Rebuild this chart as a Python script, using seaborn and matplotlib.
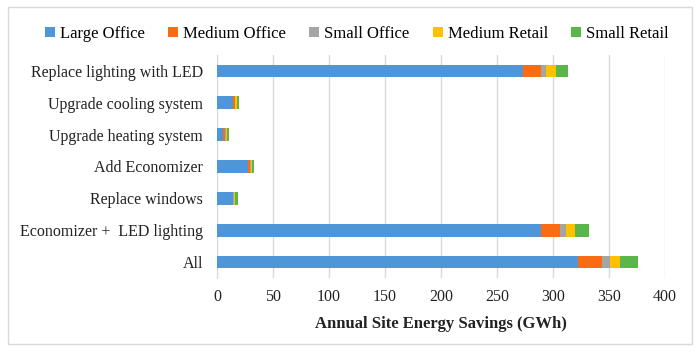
import matplotlib.pyplot as plt
import seaborn as sns
import pandas as pd
from matplotlib.patches import Rectangle

measures = ["Replace lighting with LED", "Upgrade cooling system", "Upgrade heating system",
            "Add Economizer", "Replace windows", "Economizer +  LED lighting", "All"]
large_office = [273, 14, 5.5, 28, 14, 289, 322]
medium_office = [16, 2, 2, 1.5, 0.5, 17, 22]
small_office = [5, 0.5, 0.5, 0.5, 1, 6, 7]
medium_retail = [9, 1, 1, 1, 0.5, 8, 9]
small_retail = [10, 2.5, 1.5, 2, 3, 12, 16]

types = ["Large Office", "Medium Office", "Small Office", "Medium Retail", "Small Retail"]
colors = ["#4E96D8", "#F96C14", "#A5A5A5", "#FFC000", "#5AB54B"]

df = pd.DataFrame({"measure": measures, "Large Office": large_office,
                   "Medium Office": medium_office, "Small Office": small_office,
                   "Medium Retail": medium_retail, "Small Retail": small_retail})
cum = df[types].cumsum(axis=1)

plt.rcParams["font.family"] = ["Liberation Serif", "DejaVu Serif"]
fig = plt.figure(figsize=(7, 3.55), dpi=100)
ax = fig.add_axes([0.31, 0.217, 0.64, 0.628])

# draw from the full stack down so each segment shows through
for t, c in reversed(list(zip(types, colors))):
    sns.barplot(x=cum[t], y=df["measure"], color=c, width=0.4, ax=ax,
                label=t, saturation=1, zorder=3)

ax.set_xlim(0, 400)
ax.set_xticks(range(0, 401, 50))
ax.grid(axis="x", color="#D9D9D9", linewidth=1, zorder=0)
ax.set_axisbelow(True)
ax.spines[["top", "right", "bottom"]].set_visible(False)
ax.spines["left"].set_color("#D9D9D9")
ax.tick_params("both", length=0, labelsize=11.5, colors="#222222")
ax.tick_params("y", pad=10)
ax.tick_params("x", pad=8)
ax.set_ylabel("")
ax.set_xlabel("Annual Site Energy Savings (GWh)", fontsize=12, fontweight="bold",
              color="#222222", labelpad=8)

handles, labels = ax.get_legend_handles_labels()
ax.get_legend().remove()
order = [labels.index(t) for t in types]
fig.legend([handles[i] for i in order], types, loc="center", ncol=5,
           bbox_to_anchor=(0.51, 0.905), frameon=False, fontsize=12,
           handlelength=0.6, handleheight=0.6, handletextpad=0.3, columnspacing=1.4)

fig.patches.append(Rectangle((0.012, 0.03), 0.976, 0.95, transform=fig.transFigure,
                             fill=False, edgecolor="#D9D9D9", linewidth=1))

plt.savefig("out.png")
